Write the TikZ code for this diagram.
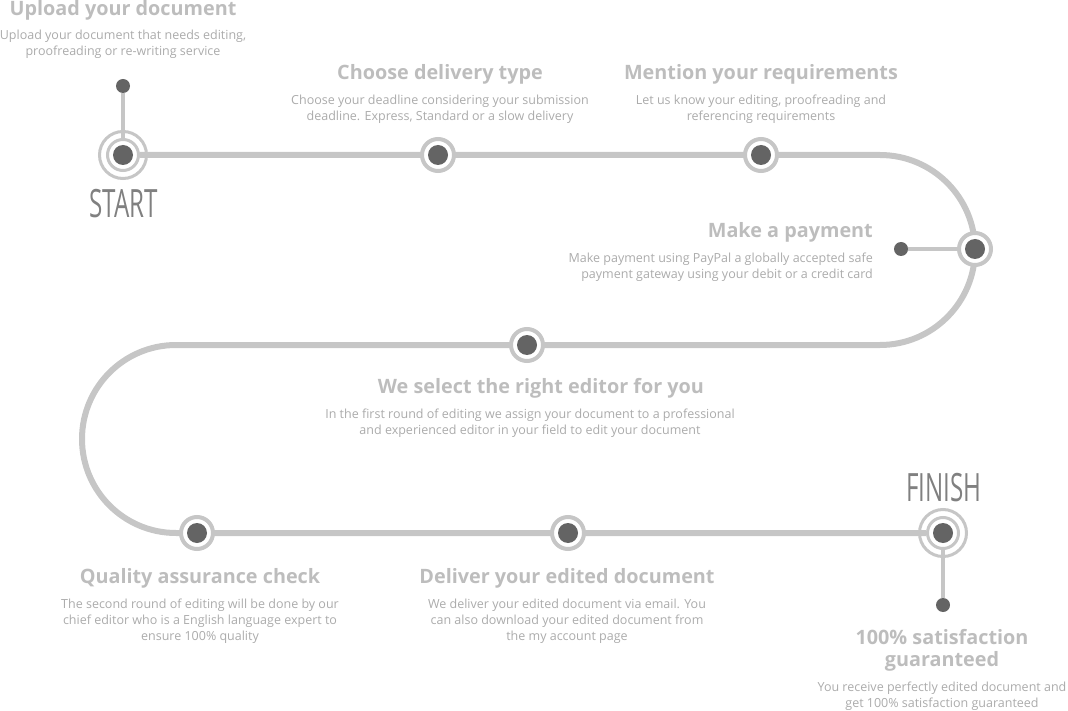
\documentclass[tikz,border=0pt]{standalone}
\usepackage{fontspec}
\usepackage{graphicx}
\usepackage{xcolor}
\setmainfont{Open Sans}
\newfontfamily\markfont[FakeStretch=0.62]{Open Sans}
\usetikzlibrary{backgrounds, positioning}

\definecolor{track}{HTML}{C6C6C6}
\definecolor{dot}{HTML}{646464}
\definecolor{headc}{HTML}{BDBDBD}
\definecolor{bodyc}{HTML}{ABABAB}
\definecolor{markc}{HTML}{808080}

\begin{document}
\begin{tikzpicture}[x=1pt, y=-1pt,
    stop/.style={circle, draw=track, line width=4pt, fill=white, minimum size=32pt, inner sep=0pt,
        path picture={\fill[dot] (path picture bounding box.center) circle (10pt);}},
    endin/.style={circle, draw=track, line width=3pt, fill=white, minimum size=31pt, inner sep=0pt,
        path picture={\fill[dot] (path picture bounding box.center) circle (10pt);}},
    endout/.style={circle, draw=track, line width=3pt, minimum size=47pt, inner sep=0pt},
    tip/.style={circle, fill=dot, minimum size=14pt, inner sep=0pt},
    trackline/.style={draw=track, line width=6pt},
    stem/.style={draw=track, line width=3.5pt},
    head/.style={font=\bfseries\fontsize{19.8}{22}\selectfont, text=headc, align=center, inner sep=0pt},
    body/.style={font=\fontsize{12.5}{16}\selectfont, text=bodyc, align=center, inner sep=0pt},
    endlabel/.style={font=\markfont\fontsize{39}{39}\selectfont, text=markc, inner sep=0pt}
]
\useasboundingbox (0,0) rectangle (1068,711);

% Stops on the road
\node[endout] (startring) at (123,155) {};
\node[endin] (start) at (123,155) {};
\node[stop] (delivery) at (438,155) {};
\node[stop] (require) at (761,155) {};
\node[stop] (payment) at (975,249) {};
\node[stop] (editor) at (527,345) {};
\node[stop] (quality) at (197,533) {};
\node[stop] (deliver) at (568,533) {};
\node[endout] (finishring) at (943,533) {};
\node[endin] (finish) at (943,533) {};

% Small end dots
\node[tip] (starttip) at (123,86) {};
\node[tip] (paytip) at (901,249) {};
\node[tip] (finishtip) at (943,605) {};

% Road and stems
\begin{scope}[on background layer]
\draw[trackline] (start) -- (880,155) arc[start angle=-90, end angle=90, radius=95]
    -- (176,345) arc[start angle=270, end angle=90, radius=94] -- (finish);
\draw[stem] (starttip) -- (start);
\draw[stem] (paytip) -- (payment);
\draw[stem] (finishtip) -- (finish);
\end{scope}

% START / FINISH
\node[endlabel] (startlbl) at (124,204) {START};
\node[endlabel] (finishlbl) at (944,488) {FINISH};

% Texts
\node[head] (uploadh) at (123,10) {Upload your document};
\node[body] (uploadb) at (123,44) {Upload your document that needs editing,\\proofreading or re-writing service};

\node[head] (deliveryh) at (440,74) {Choose delivery type};
\node[body] (deliveryb) at (440,109) {Choose your deadline considering your submission\\deadline. Express, Standard or a slow delivery};

\node[head] (requireh) at (761,74) {Mention your requirements};
\node[body] (requireb) at (761,109) {Let us know your editing, proofreading and\\referencing requirements};

\node[head, anchor=east] (paymenth) at (873,232) {Make a payment};
\node[body, anchor=east, align=right] (paymentb) at (873,267) {Make payment using PayPal a globally accepted safe\\payment gateway using your debit or a credit card};

\node[head] (editorh) at (541,388) {We select the right editor for you};
\node[body] (editorb) at (530,423) {In the first round of editing we assign your document to a professional\\and experienced editor in your field to edit your document};

\node[head] (qualityh) at (200,578) {Quality assurance check};
\node[body] (qualityb) at (200,621) {The second round of editing will be done by our\\chief editor who is a English language expert to\\ensure 100\% quality};

\node[head] (deliverh) at (567,578) {Deliver your edited document};
\node[body] (deliverb) at (567,621) {We deliver your edited document via email. You\\can also download your edited document from\\the my account page};

\node[head] (finishh) at (942,650) {100\% satisfaction\\guaranteed};
\node[body] (finishb) at (942,696) {You receive perfectly edited document and\\get 100\% satisfaction guaranteed};

\end{tikzpicture}
\end{document}
